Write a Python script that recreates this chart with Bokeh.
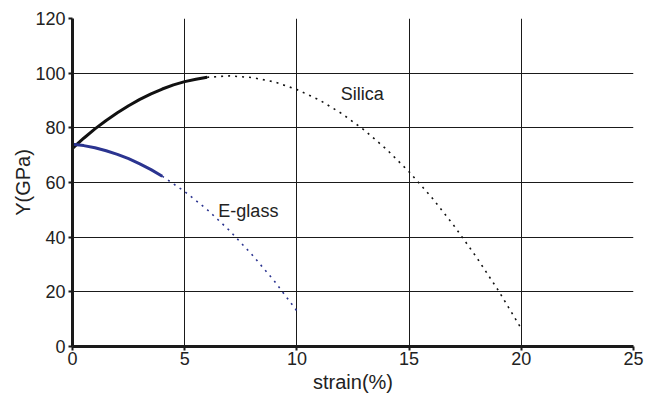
from bokeh.plotting import figure
from bokeh.models import Range1d, FixedTicker, Label
from bokeh.embed import file_html
from bokeh.resources import INLINE

# Silica: measured (solid) and extrapolated (dotted)
silica_solid_x = [0, 0.5, 1, 1.5, 2, 2.5, 3, 3.5, 4, 4.5, 5, 5.5, 6]
silica_solid_y = [72.5, 76.2, 79.6, 82.7, 85.5, 88.1, 90.4, 92.4, 94.2, 95.7, 96.9, 97.8, 98.5]
silica_dot_x = [6, 7, 8, 9, 10, 11, 12, 13, 14, 15, 16, 17, 18, 19, 20]
silica_dot_y = [98.5, 99.0, 98.4, 96.8, 94.0, 90.2, 85.2, 79.2, 72.1, 63.9, 54.6, 44.2, 32.7, 20.2, 6.5]

# E-glass: measured (solid) and extrapolated (dotted)
eglass_solid_x = [0, 0.5, 1, 1.5, 2, 2.5, 3, 3.5, 4]
eglass_solid_y = [74.0, 73.5, 72.7, 71.6, 70.3, 68.7, 66.8, 64.7, 62.3]
eglass_dot_x = [4, 5, 6, 7, 8, 9, 10]
eglass_dot_y = [62.3, 56.7, 50.1, 42.4, 33.6, 23.9, 13.0]

x_ticks = [0, 5, 10, 15, 20, 25]
y_ticks = [0, 20, 40, 60, 80, 100, 120]

FONT = "Liberation Sans"
BLUE = "#2B3490"

p = figure(width=658, height=397, output_backend="svg", toolbar_location=None,
           x_range=Range1d(0, 25), y_range=Range1d(0, 120),
           min_border_left=72, min_border_right=25, min_border_top=18, min_border_bottom=51)

p.outline_line_color = None
p.background_fill_color = "white"

for ax in (p.xaxis[0], p.yaxis[0]):
    ax.axis_line_width = 3
    ax.axis_line_color = "#1a1a1a"
    ax.major_tick_line_color = "#1a1a1a"
    ax.major_tick_line_width = 2
    ax.major_tick_out = 4
    ax.major_tick_in = 0
    ax.minor_tick_line_color = None
    ax.major_label_text_font = FONT
    ax.major_label_text_font_size = "18px"
    ax.major_label_text_color = "#222222"
    ax.axis_label_text_font = FONT
    ax.axis_label_text_font_size = "20px"
    ax.axis_label_text_font_style = "normal"
    ax.axis_label_text_color = "#222222"

p.xaxis[0].ticker = FixedTicker(ticks=x_ticks)
p.yaxis[0].ticker = FixedTicker(ticks=y_ticks)
p.xaxis[0].axis_label = "strain(%)"
p.yaxis[0].axis_label = "Y(GPa)"
p.xaxis[0].major_label_standoff = 1
p.yaxis[0].major_label_standoff = 3
p.xaxis[0].axis_label_standoff = 3
p.yaxis[0].axis_label_standoff = -2

p.xgrid.ticker = FixedTicker(ticks=x_ticks)
p.ygrid.ticker = FixedTicker(ticks=y_ticks)
for g in (p.xgrid[0], p.ygrid[0]):
    g.grid_line_color = "#1a1a1a"
    g.grid_line_width = 1

p.line(silica_solid_x, silica_solid_y, line_color="#111111", line_width=3)
p.line(silica_dot_x, silica_dot_y, line_color="#111111", line_width=1.6, line_dash="2 5")
p.line(eglass_solid_x, eglass_solid_y, line_color=BLUE, line_width=3)
p.line(eglass_dot_x, eglass_dot_y, line_color=BLUE, line_width=1.6, line_dash="2 5")

p.add_layout(Label(x=11.95, y=92.5, text="Silica", text_font=FONT, text_font_size="18px",
                   text_color="#222222", text_baseline="middle", text_align="left"))
p.add_layout(Label(x=6.5, y=49.5, text="E-glass", text_font=FONT, text_font_size="18px",
                   text_color="#222222", text_baseline="middle", text_align="left"))

open("out.html", "w").write(file_html(p, INLINE))
